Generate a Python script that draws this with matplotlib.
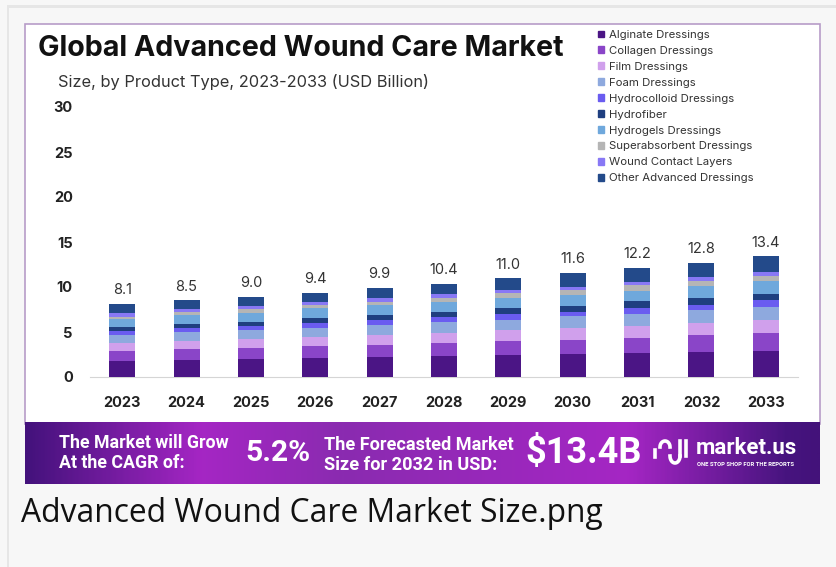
import numpy as np
import matplotlib
matplotlib.use('Agg')
import matplotlib.pyplot as plt
from matplotlib.patches import Patch, Rectangle
from matplotlib.colors import LinearSegmentedColormap

# data
years = ['2023', '2024', '2025', '2026', '2027', '2028', '2029', '2030', '2031', '2032', '2033']
totals = ['8.1', '8.5', '9.0', '9.4', '9.9', '10.4', '11.0', '11.6', '12.2', '12.8', '13.4']
y_ticks = [0, 5, 10, 15, 20, 25, 30]

alginate = [1.78, 1.93, 2.05, 2.16, 2.23, 2.34, 2.42, 2.53, 2.64, 2.83, 2.94]
collagen = [1.11, 1.15, 1.15, 1.26, 1.34, 1.49, 1.60, 1.60, 1.67, 1.79, 1.90]
film = [0.85, 0.93, 1.00, 1.08, 1.12, 1.08, 1.15, 1.30, 1.38, 1.41, 1.49]
foam = [0.93, 1.04, 1.00, 0.93, 1.08, 1.15, 1.19, 1.30, 1.34, 1.41, 1.45]
hydrocolloid = [0.45, 0.41, 0.48, 0.56, 0.56, 0.56, 0.63, 0.48, 0.60, 0.56, 0.74]
hydrofiber = [0.48, 0.45, 0.48, 0.60, 0.56, 0.63, 0.63, 0.63, 0.78, 0.78, 0.74]
hydrogels = [0.82, 0.97, 1.00, 1.08, 1.08, 1.12, 1.12, 1.30, 1.19, 1.38, 1.38]
superabsorbent = [0.30, 0.37, 0.45, 0.37, 0.37, 0.41, 0.56, 0.56, 0.60, 0.56, 0.63]
wound_contact = [0.37, 0.26, 0.26, 0.30, 0.41, 0.41, 0.33, 0.30, 0.41, 0.41, 0.41]
other = [1.00, 1.00, 1.00, 1.04, 1.12, 1.19, 1.34, 1.53, 1.49, 1.56, 1.71]

series = [alginate, collagen, film, foam, hydrocolloid, hydrofiber, hydrogels,
          superabsorbent, wound_contact, other]
names = ['Alginate Dressings', 'Collagen Dressings', 'Film Dressings', 'Foam Dressings',
         'Hydrocolloid Dressings', 'Hydrofiber', 'Hydrogels Dressings',
         'Superabsorbent Dressings', 'Wound Contact Layers', 'Other Advanced Dressings']
colors = ['#4b1585', '#8a45c8', '#d0a0ec', '#8ea9de', '#6a5cf0',
          '#1f3f80', '#6fa8dc', '#b5b5b5', '#8878f5', '#234a8a']

W, H = 836, 567
fig = plt.figure(figsize=(W / 100, H / 100), dpi=100, facecolor='#f7f7f7')

# background layer in pixel coordinates
bg = fig.add_axes([0, 0, 1, 1])
bg.set_xlim(0, W)
bg.set_ylim(H, 0)
bg.axis('off')
bg.add_patch(Rectangle((7, 5), 829, 3, color='#e6e6e6', lw=0))
bg.add_patch(Rectangle((7, 5), 2, 562, color='#e6e6e6', lw=0))
bg.add_patch(Rectangle((25, 24), 795, 400, fc='white', ec='#b79cc8', lw=1.2))

# banner gradient
cmap = LinearSegmentedColormap.from_list('banner', [(0, '#44127c'), (0.22, '#a526c4'), (0.4, '#8a2bb0'),
                                                     (0.76, '#a526c4'), (0.96, '#47147f'), (1, '#43127a')])
bg.imshow(np.linspace(0, 1, 400).reshape(1, -1), cmap=cmap, aspect='auto', extent=(25, 820, 484, 422), zorder=2)
bg.set_xlim(0, W)
bg.set_ylim(H, 0)

bg.text(38, 49, 'Global Advanced Wound Care Market', fontsize=20.65, fontweight='bold', family='Inter',
        color='#111111', va='center')
bg.text(58, 82, 'Size, by Product Type, 2023-2033 (USD Billion)', fontsize=11.8, family='Inter',
        color='#333333', va='center')

banner_font = dict(color='white', fontweight='bold', family='Roboto', va='center', zorder=3)
bg.text(59, 443, 'The Market will Grow', fontsize=12.8, **banner_font)
bg.text(59, 463, 'At the CAGR of:', fontsize=12.8, **banner_font)
bg.text(245, 453, '5.2%', fontsize=21.5, **banner_font)
bg.text(324, 445, 'The Forecasted Market', fontsize=13.1, **banner_font)
bg.text(324, 465, 'Size for 2032 in USD:', fontsize=13.1, **banner_font)
bg.text(525, 453, '$13.4B', fontsize=26, **banner_font)
bg.text(696, 448, 'market.us', fontsize=16, **banner_font)
bg.text(697, 464, 'ONE STOP SHOP FOR THE REPORTS', fontsize=4.2, **banner_font)

# logo mark
t = np.linspace(np.pi, 0, 20)
bg.plot(665 + 5 * np.cos(t), 447 + 6 * np.sin(t) * -1, color='white', lw=2.6, zorder=3)
t2 = np.linspace(np.pi, 2 * np.pi, 20)
bg.plot(675 + 5 * np.cos(t2), 456 + 7 * np.sin(t2) * -1, color='white', lw=2.6, zorder=3)
bg.plot([680, 680], [441, 456], color='white', lw=2.6, zorder=3)
bg.plot([686, 686], [441, 456], color='white', lw=2.6, zorder=3)
bg.plot([655, 655], [450, 457], color='white', lw=2.6, zorder=3)

bg.text(21, 514, 'Advanced Wound Care Market Size.png', fontsize=22.9, family='Open Sans', color='#111111',
        va='center')

# chart: 30 at y=107, 0 at y=377, x from 90 to 798
ax = fig.add_axes([90 / W, 1 - 377 / H, 708 / W, 270 / H])
ax.patch.set_alpha(0)
x = np.arange(len(years))
bottom = np.zeros(len(years))
for vals, c, name in zip(series, colors, names):
    ax.bar(x, vals, 0.404, bottom=bottom, color=c, label=name, zorder=3)
    bottom += np.array(vals)

for xi, top, label in zip(x, bottom, totals):
    ax.text(xi, top + 0.75, label, ha='center', va='bottom', fontsize=10.5, family='Inter', color='#333333')

ax.set_xlim(-0.5, 10.5)
ax.set_ylim(0, 30)
ax.set_xticks(x)
ax.set_xticklabels(years, fontsize=10.5, fontweight='bold', family='Inter', color='#222222')
ax.set_yticks(y_ticks)
ax.set_yticklabels([str(v) for v in y_ticks], fontsize=10.5, fontweight='bold', family='Inter', color='#222222')
ax.tick_params(length=0)
ax.tick_params(axis='x', pad=14)
ax.tick_params(axis='y', pad=12.5)
for s in ['top', 'right', 'left']:
    ax.spines[s].set_visible(False)
ax.spines['bottom'].set_color('#d5d5d5')

handles = [Patch(color=c) for c in colors]
ax.legend(handles, names, loc='upper left', bbox_to_anchor=(598 / W, 1 - 30 / H), bbox_transform=fig.transFigure,
          frameon=False, ncol=1, labelspacing=0.52, handlelength=0.55, handleheight=0.55,
          handletextpad=0.41, borderpad=0, borderaxespad=0, labelcolor='#333333',
          prop={'family': 'Inter', 'size': 8.2})

fig.savefig('out.png', dpi=100, facecolor=fig.get_facecolor())
